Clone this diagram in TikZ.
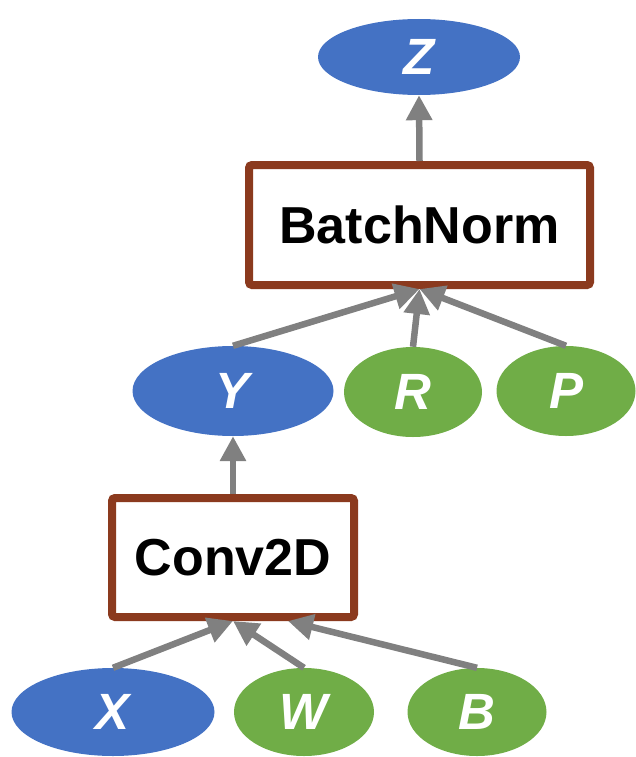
\documentclass[tikz,border=0pt]{standalone}
\usepackage{fontspec}
\setmainfont{Liberation Sans}
\usetikzlibrary{shapes.geometric,arrows.meta,calc}
\definecolor{nblue}{HTML}{4472C4}
\definecolor{ngreen}{HTML}{70AD47}
\definecolor{nbrown}{HTML}{8B3A1E}
\definecolor{ngray}{HTML}{808080}
\tikzset{
  var/.style={ellipse, inner sep=0pt, text=white, font=\fontsize{51}{60}\selectfont\bfseries\itshape},
  bluevar/.style={var, fill=nblue},
  greenvar/.style={var, fill=ngreen},
  opbox/.style={rectangle, draw=nbrown, line width=8pt, fill=white, rounded corners=3pt, inner sep=0pt, font=\fontsize{52}{62}\selectfont\bfseries},
  edge/.style={draw=ngray, line width=6.5pt, -{Triangle[length=25pt,width=25pt]}}
}
\begin{document}
\begin{tikzpicture}[x=1pt,y=-1pt]
\useasboundingbox (0,0) rectangle (636,757);
\node[bluevar, minimum width=202pt, minimum height=76pt] (Z) at (419,57) {Z};
\node[opbox, minimum width=341pt, minimum height=120pt] (BN) at (419.5,225) {BatchNorm};
\node[bluevar, minimum width=201pt, minimum height=90pt] (Y) at (233,391) {Y};
\node[greenvar, minimum width=138pt, minimum height=90pt] (R) at (413,392) {R};
\node[greenvar, minimum width=139pt, minimum height=90pt] (P) at (566,391) {P};
\node[opbox, minimum width=242pt, minimum height=119pt] (C) at (233,557.5) {Conv2D};
\node[bluevar, minimum width=203pt, minimum height=88pt] (X) at (113,712) {X};
\node[greenvar, minimum width=140pt, minimum height=88pt] (W) at (304,712) {W};
\node[greenvar, minimum width=139pt, minimum height=88pt] (B) at (477,712) {B};
\draw[edge] (BN.north) -- (Z.south);
\draw[edge] (Y.north) -- (BN.south);
\draw[edge] (R.north) -- (BN.south);
\draw[edge] (P.north) -- (BN.south);
\draw[edge] (C.north) -- (Y.south);
\draw[edge] (X.north) -- (C.south);
\draw[edge] (W.north) -- (C.south);
\draw[edge] (B.north) -- ([xshift=55pt]C.south);
\end{tikzpicture}
\end{document}
